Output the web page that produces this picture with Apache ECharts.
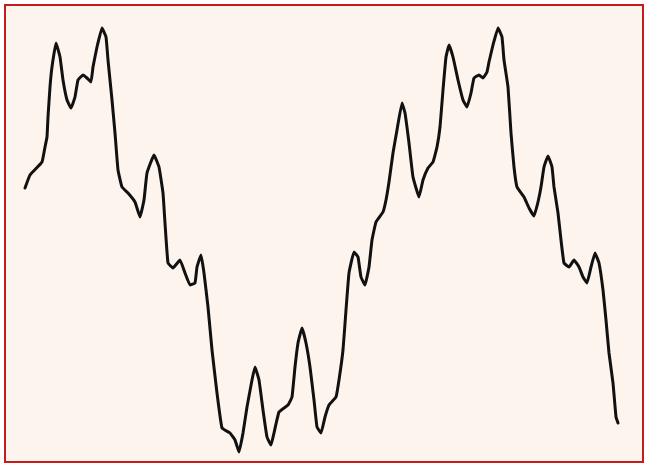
<!DOCTYPE html>
<html>
<head>
<meta charset="utf-8">
<script src="https://cdn.jsdelivr.net/npm/echarts@6/dist/echarts.min.js"></script>
<style>
html,body{margin:0;padding:0;background:#ffffff;}
#c{width:646px;height:465px;}
</style>
</head>
<body>
<div id="c"></div>
<script>
// horizontal positions of the traced samples
const xs = [25,30,42,45,47,48,50,52,56,60,63,67,71,75,78,83,87,91,93,97,102,106,108,112,115,118,122,128,135,140,144,147,154,159,163,165,168,173,180,185,190,195,197,201,204,208,212,217,222,230,235,239,243,247,252,255,259,263,267,271,274,279,288,292,295,298,302,306,310,314,317,321,325,329,336,339,343,346,349,354,358,361,365,369,372,376,383,386,389,393,397,402,405,409,413,419,423,428,433,437,440,443,446,449,453,458,463,467,471,474,479,483,487,489,493,498,502,504,508,511,514,517,524,529,534,538,541,544,548,552,554,558,561,564,569,574,579,583,587,591,595,599,603,606,609,613,616,618];
// vertical readings (picture rows) of the same samples
const rows = [188,175,162,147,137,117,87,67,43,57,80,100,108,97,80,75,78,82,67,47,28,37,60,100,133,170,187,193,202,217,200,173,155,167,193,223,263,268,260,273,285,283,267,255,273,307,350,393,428,433,440,452,433,407,380,367,380,410,437,445,433,412,405,397,367,343,328,343,367,400,427,433,417,405,397,380,350,310,273,252,257,277,285,267,240,222,212,200,182,153,130,103,113,143,177,197,180,168,162,147,127,90,57,45,57,80,100,107,93,78,75,78,72,62,45,28,37,60,87,133,167,187,197,208,216,202,187,167,156,167,187,213,240,263,267,260,267,277,283,267,253,263,290,320,353,383,417,423];
const values = rows.map(r => 465 - r);
const data = xs.map((x, i) => [x, values[i]]);

const chart = echarts.init(document.getElementById('c'), null, {renderer: 'canvas'});
chart.setOption({
  animation: false,
  backgroundColor: '#ffffff',
  grid: {
    show: true,
    left: 5, right: 3, top: 5, bottom: 3,
    backgroundColor: '#fdf4ee',
    borderColor: '#c81a1a',
    borderWidth: 2
  },
  xAxis: {type: 'value', min: 5, max: 643, show: false},
  yAxis: {type: 'value', min: 3, max: 460, show: false},
  series: [{
    type: 'line',
    data: data,
    showSymbol: false,
    smooth: 0.1,
    lineStyle: {color: '#111111', width: 3, join: 'round', cap: 'round'}
  }]
});
</script>
</body>
</html>
